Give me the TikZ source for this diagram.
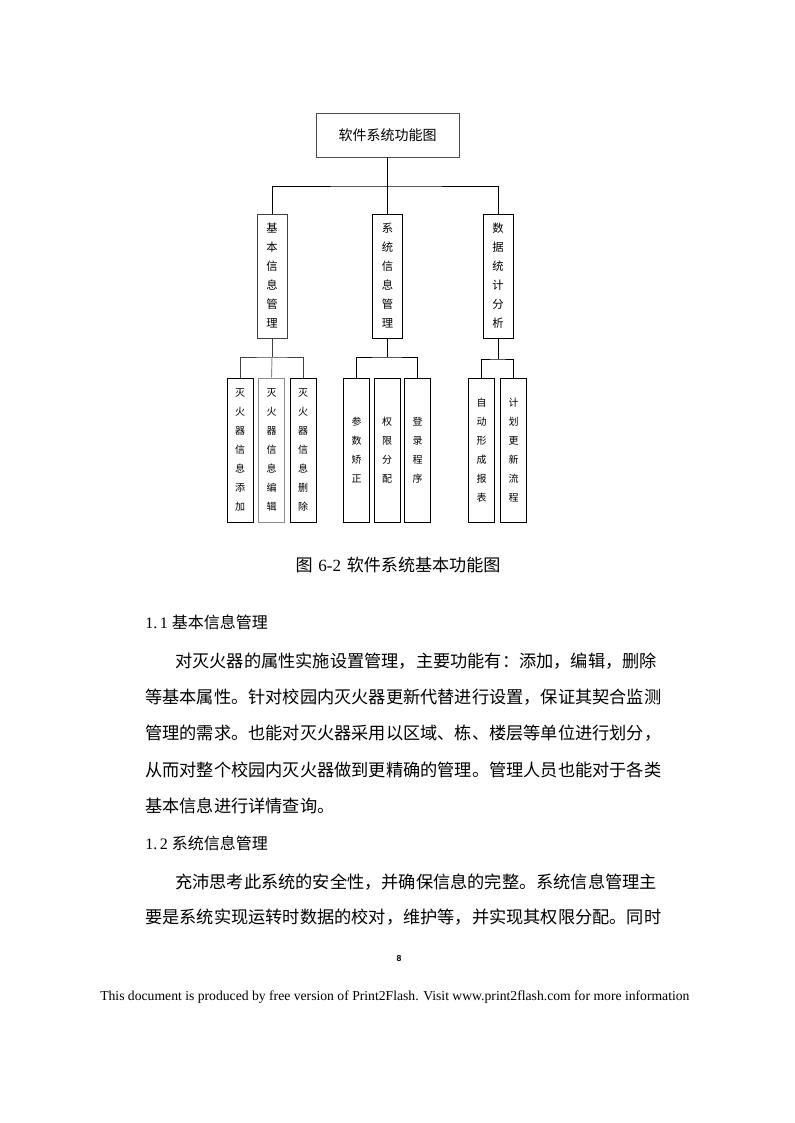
\documentclass[tikz,border=0pt]{standalone}
\usepackage{fontspec}
\setmainfont{Liberation Serif}
\newfontfamily\cjk{Noto Sans CJK SC}
\newfontfamily\pagenofont{Liberation Sans}

\begin{document}
\begin{tikzpicture}[x=0.75pt,y=-0.75pt,
  box/.style={draw,line width=0.7pt,inner sep=0pt,align=center},
  topbox/.style={box,draw=black!70,minimum width=107.25pt,minimum height=33pt,
    font=\cjk\fontsize{10.5}{12}\selectfont},
  midbox/.style={box,minimum width=22.5pt,minimum height=93pt,
    font=\cjk\fontsize{8.5}{14.25}\selectfont},
  leafbox/.style={box,minimum width=19.5pt,minimum height=108pt,
    font=\cjk\fontsize{7.5}{14.25}\selectfont},
  link/.style={line width=0.7pt},
  bodytext/.style={anchor=west,inner sep=0pt,font=\cjk\fontsize{12.9}{15}\selectfont}
]
  \fill[white] (0,0) rectangle (794,1123);
  \useasboundingbox (0,0) rectangle (794,1123);

  \node[topbox] (top) at (387.5,135) {软件系统功能图};

  \node[midbox,draw=black!75] (basic) at (272,276) {基\\本\\信\\息\\管\\理};
  \node[midbox] (sysinfo) at (387.5,276) {系\\统\\信\\息\\管\\理};
  \node[midbox] (stats) at (498,276) {数\\据\\统\\计\\分\\析};

  \coordinate (j0) at (387.5,186);
  \draw[link] (top.south) -- (j0);
  \draw[link] (basic.north) |- (j0) -| (stats.north);
  \draw[link] (j0) -- (sysinfo.north);

  \node[leafbox] (add) at (240,450) {灭\\火\\器\\信\\息\\添\\加};
  \node[leafbox,draw=black!45] (edit) at (271.5,450) {灭\\火\\器\\信\\息\\编\\辑};
  \node[leafbox] (del) at (303,450) {灭\\火\\器\\信\\息\\删\\除};

  \node[leafbox] (param) at (356.5,450) {参\\数\\矫\\正};
  \node[leafbox] (perm) at (387,450) {权\\限\\分\\配};
  \node[leafbox] (login) at (417.5,450) {登\\录\\程\\序};

  \node[leafbox] (report) at (481.5,450) {自\\动\\形\\成\\报\\表};
  \node[leafbox] (plan) at (513.5,450) {计\\划\\更\\新\\流\\程};

  \coordinate (j1) at (272,357);
  \draw[link,black!75] (basic.south) -- (j1);
  \draw[link,black!75] (add.north) |- (j1) -| (del.north);
  \draw[link,black!45] (j1) -- (edit.north);

  \coordinate (j2) at (387.5,357);
  \draw[link] (sysinfo.south) -- (j2);
  \draw[link] (param.north) |- (j2) -| (login.north);

  \coordinate (j3) at (498,359);
  \draw[link] (stats.south) -- (j3);
  \draw[link] (report.north) |- (j3) -| (plan.north);

  \node[font=\fontsize{12.8}{15}\selectfont,inner sep=0pt] (caption) at (398,565)
    {{\cjk 图}\,\,6-2\,\,{\cjk 软件系统基本功能图}};

  \node[anchor=west,inner sep=0pt,font=\fontsize{12}{15}\selectfont] (sec1) at (145,622)
    {1.\,1 {\cjk 基本信息管理}};
  \node[bodytext] (p1a) at (175,661) {对灭火器的属性实施设置管理，主要功能有：添加，编辑，删除};
  \node[bodytext] (p1b) at (145,697) {等基本属性。针对校园内灭火器更新代替进行设置，保证其契合监测};
  \node[bodytext] (p1c) at (145,733) {管理的需求。也能对灭火器采用以区域、栋、楼层等单位进行划分，};
  \node[bodytext] (p1d) at (145,770) {从而对整个校园内灭火器做到更精确的管理。管理人员也能对于各类};
  \node[bodytext] (p1e) at (145,806) {基本信息进行详情查询。};

  \node[anchor=west,inner sep=0pt,font=\fontsize{12}{15}\selectfont] (sec2) at (145,843)
    {1.\,2 {\cjk 系统信息管理}};
  \node[bodytext] (p2a) at (175,882) {充沛思考此系统的安全性，并确保信息的完整。系统信息管理主};
  \node[bodytext] (p2b) at (145,917) {要是系统实现运转时数据的校对，维护等，并实现其权限分配。同时};

  \node[font=\pagenofont\bfseries\fontsize{6.5}{8}\selectfont,inner sep=0pt] (pageno) at (399,959) {8};

  \node[anchor=west,inner sep=0pt,font=\fontsize{10.25}{12}\selectfont] (footer) at (100,997)
    {This document is produced by free version of Print2Flash. Visit www.print2flash.com for more information};
\end{tikzpicture}
\end{document}
